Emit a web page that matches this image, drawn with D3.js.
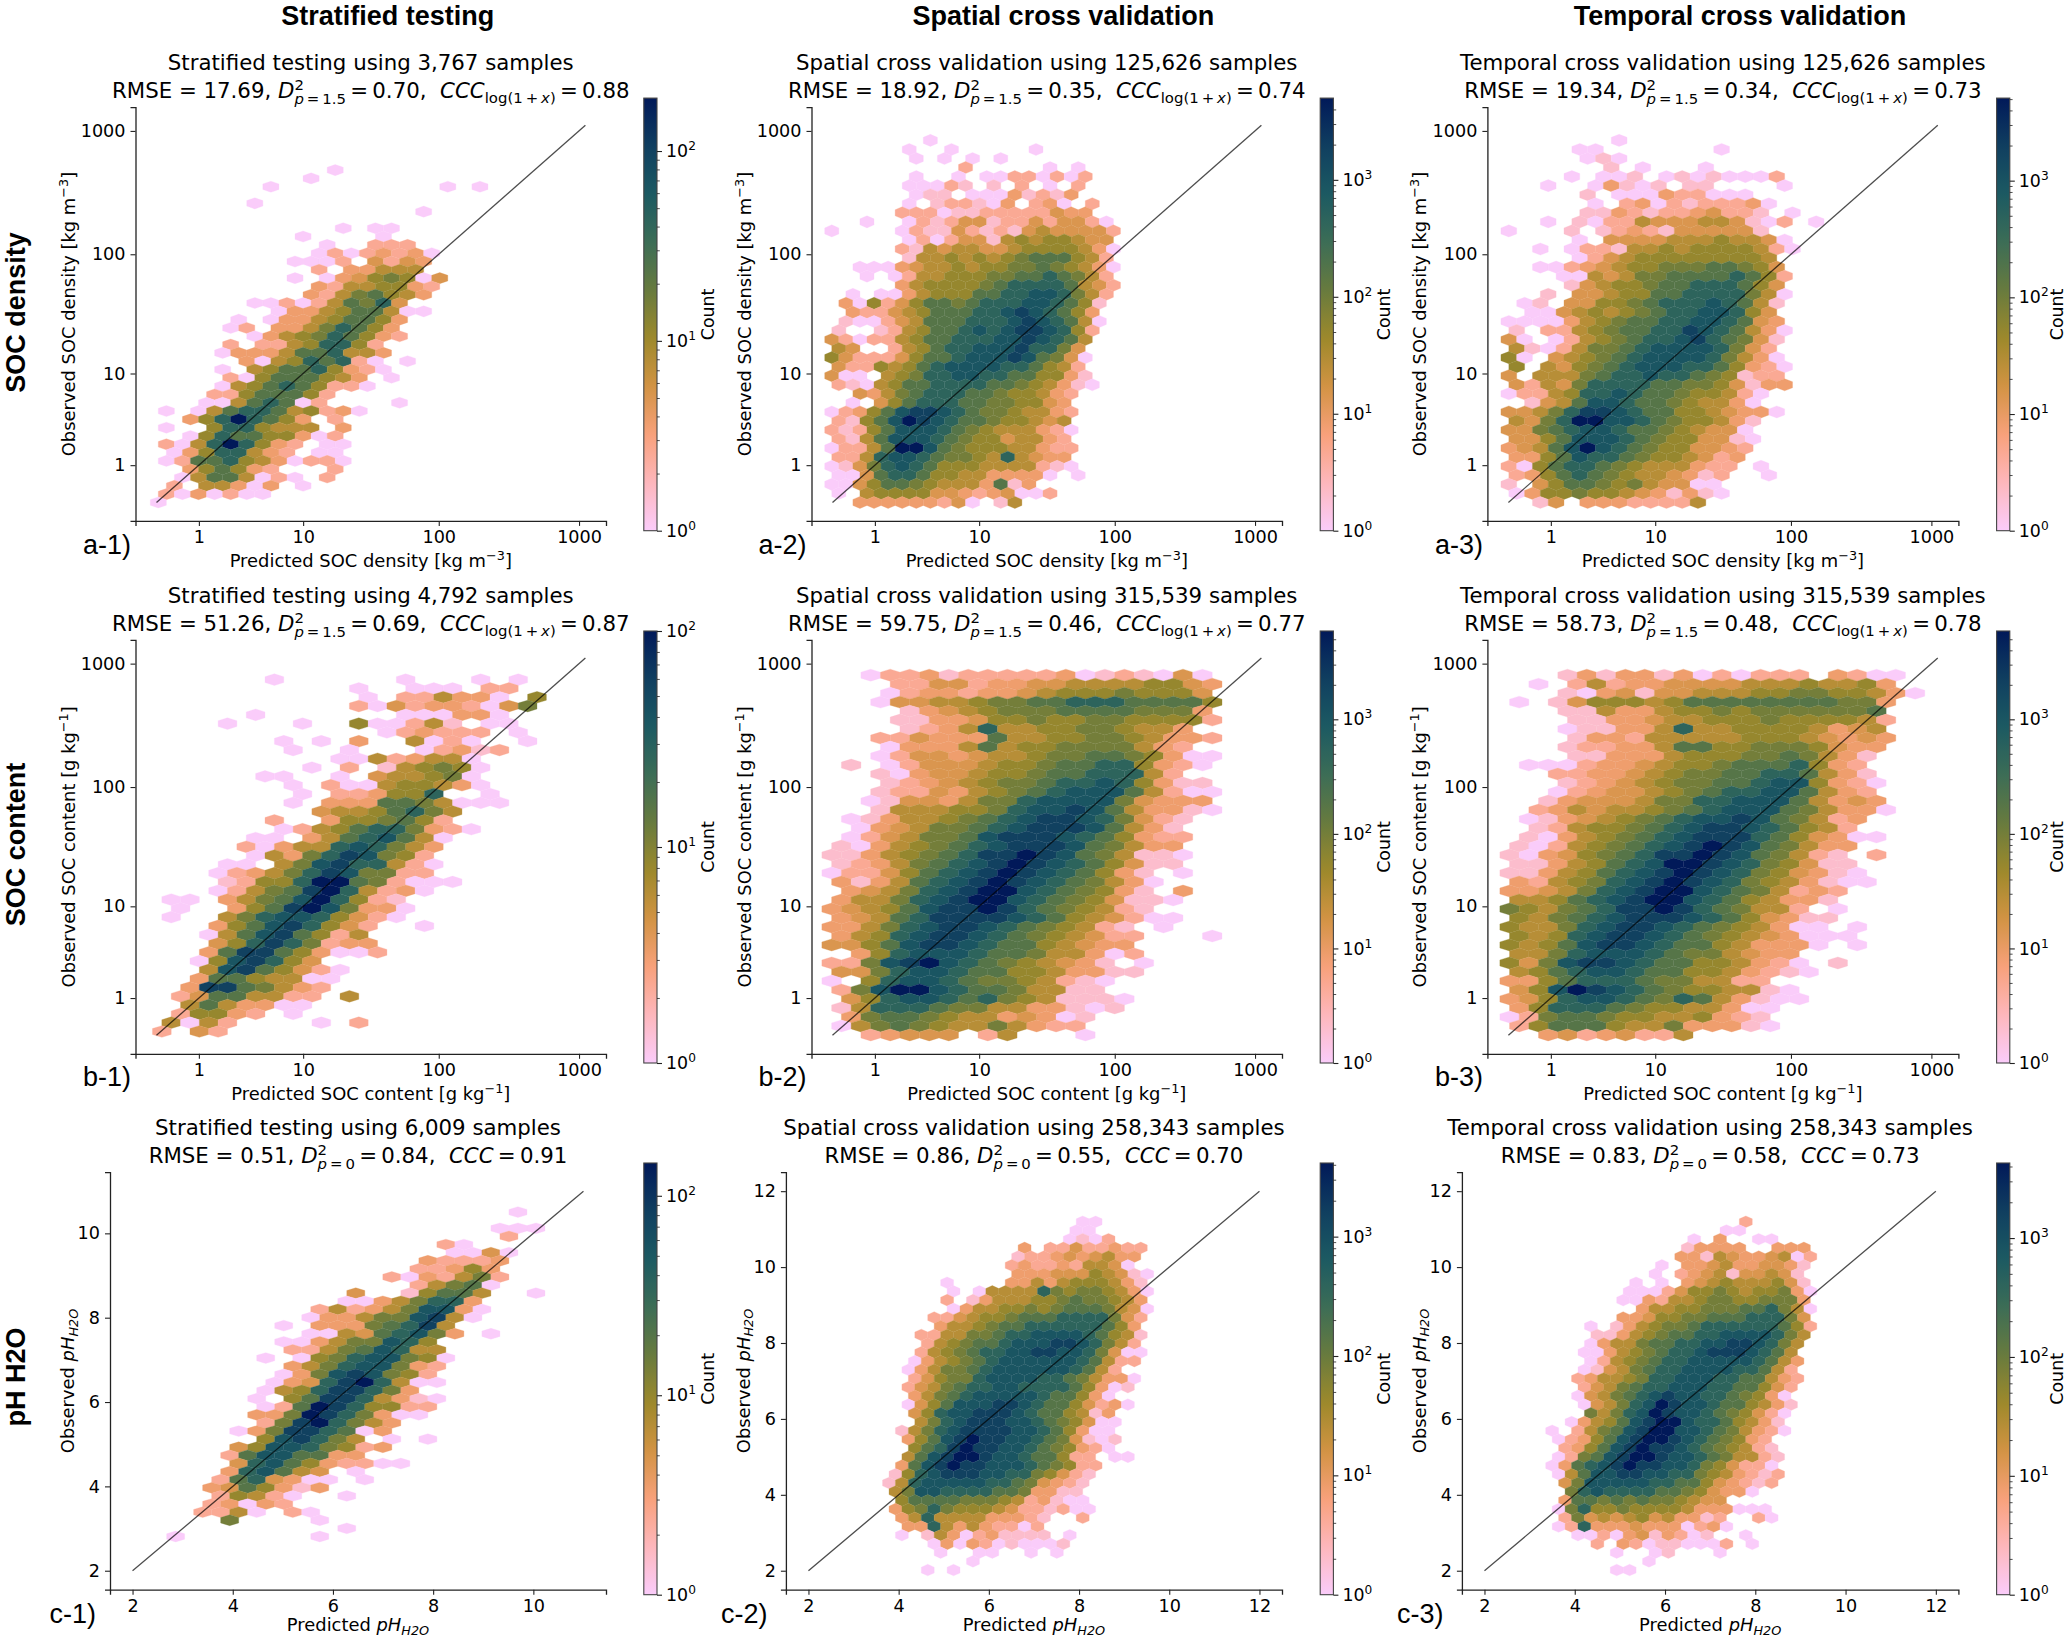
<!DOCTYPE html>
<html>
<head>
<meta charset="utf-8">
<script src="https://cdn.jsdelivr.net/npm/d3@7"></script>
<style>
  html, body { margin: 0; padding: 0; background: #fff; }
  text { font-family: "DejaVu Sans", sans-serif; fill: #000; }
  .head { font-family: "Liberation Sans", Arial, sans-serif; font-weight: bold; font-size: 27px; }
  .letter { font-family: "Liberation Sans", Arial, sans-serif; font-size: 27px; }
</style>
</head>
<body>
<div id="chart-area"></div>
<script>
var colHeads = ["Stratified testing", "Spatial cross validation", "Temporal cross validation"];
var rowHeads = ["SOC density", "SOC content", "pH H2O"];
var letters = ["a-1)", "a-2)", "a-3)", "b-1)", "b-2)", "b-3)", "c-1)", "c-2)", "c-3)"];
var sampleCounts = ["3,767", "125,626", "125,626", "4,792", "315,539", "315,539", "6,009", "258,343", "258,343"];
var rmseValues = ["17.69", "18.92", "19.34", "51.26", "59.75", "58.73", "0.51", "0.86", "0.83"];
var d2Values = ["0.70", "0.35", "0.34", "0.69", "0.46", "0.48", "0.84", "0.55", "0.58"];
var cccValues = ["0.88", "0.74", "0.73", "0.87", "0.77", "0.78", "0.91", "0.70", "0.73"];
var colorMax = [190, 5000, 5100, 100, 5900, 5900, 146, 4140, 4280];
var logTicks = [1, 10, 100, 1000];
var phTicksShort = [2, 4, 6, 8, 10];
var phTicksLong = [2, 4, 6, 8, 10, 12];

// hex lattice of every panel, in axis units (log10(1+x) for the SOC rows)
var gridX0 = [0.013, -0.005, 0.003, 0.038, -0.006, 0.008, 2.86, 3.5, 3.5];
var gridDx = [0.1142, 0.1, 0.1118, 0.1332, 0.1386, 0.137, 0.3596, 0.2863, 0.286];
var gridY0 = [0, 0, 0, 0.031, 0.0035, 0.0035, 2.812, 2.018, 2.018];
var gridDy = [0.0671, 0.0731, 0.0731, 0.071, 0.0726, 0.0726, 0.1923, 0.2294, 0.2294];

// cells: one string per hex row, top row first.
// "." is an empty cell, the other characters index levelFractions.
var levelKeys = "0123456789abc";
var levelFractions = [0, 0.08, 0.18, 0.25, 0.31, 0.39, 0.46, 0.53, 0.6, 0.72, 0.8, 0.88, 1];

var cellsA1 = ["...........0", ".........0", ".......0..........0.0", "", "......0", "................0", "",
  "...........0.00", ".........0....0", "..........0..222", "..........02023230", "........0002.4243",
  "..........2.33555", "........0.03467604", "..........32556632", ".........32578653", "......0020258794",
  ".......0335688500", ".....0.033568863", "....02.33579863", "......0356798632", "....2.22569962",
  "....03335889553", ".....305698920.0", "....0.568896320", "....206888653.0", "....0568986220",
  "...22688862", "...00589802....0", "0.05899856230", "..369c9863.2", "0..6996555.3", "..0698866302",
  "2059c9632.00", ".03699532.00", "028896530220", "..368632...2", ".05885020.2", ".2.55303.0", "2030200", "0"];

var cellsA2 = [".......0", ".....0..0.....0", "......0.0.0.0", ".........2.....0.0", "......0..0.00220202",
  ".....00021.1.2.0.2", "......011.00031213", ".....0.122103.230.2", ".....22201122222433",
  "..0..021244122424420", "0....0211421214544442", ".....020244156566544", ".....2154554456666530",
  ".....155656567888652", "..0003455656677876530", "..0.0255666778898752", ".....3566667899998542",
  ".0.00356668899aa9752", ".3062468878999aa9861", ".32245688899aba9863", ".100245888999aba9850",
  "1..1256889a9abba962", "420225688999aaba985", "54..256899aaab9974", "6422246889aaaba8740",
  "42265689aaaa998652", "400.56799aa99886631", "2105688999988765310", "..4357899988766532",
  ".0.46899988776643", "02368abba987765532", "2168acba988766545", "21268aaa9876555320",
  "2158aaa9876645532", "02258cca8766655322", "2259aa98776595433", "01479a986665555210",
  "0048998665533330.0", "004688765553813", "0.56666443234002", "..333333240.15"];

var cellsA3 = [".......0", "....00.......0", ".....010", "......1.0...0", "....0.001.01010002",
  "..0..03101.11....0", ".....1.000322000", ".....0.2302122230", ".....113212234221.0",
  "..0.10225444554102.0", "0...1.12321444441", "....0.444455565540", "..0.022155656666520",
  "....0245666666665", "..0023456677788764", "...005457788889862", "....14566788999864",
  "..1.44566889999750", ".01.446678999a9851", ".00456567899aa964", "000035678899aa9843",
  "1.225678899ba98530", "40.02567899ab98741", "510257789aaaa9742", "60.456789aaaa97530",
  "6.546789aaa9986320", "4.5557899a99876122", "425479999887764133", "0225699a988766520",
  ".1458aa988765530", "44579bba9886654330", "5479ccaa98766531", "44789aa988765440",
  "4468aaa987664410", "3458aca987664432", "3368a9987665423", "206899876555322.0",
  "23689876554312..0", "1.468876754400", "03667665431310", "..14.33322225"];

var cellsB1 = ["......0......0...0.0", "..........0..000.22", "...........0.225330.6", "..........2042332047",
  ".....0.......000330", "...0...0..600251.00", "............023222.0", "......0.0.3..5020..0",
  ".......0..0...02312", ".........00523550", "........0.2.156760", ".....00..0.455670",
  ".......0.200566530", ".......0.223669..0", ".......0.3338875000", "........45568975",
  "......2..3667862", "......02568997320", ".....00.3589a850", "....203559a9753",
  ".....05379ba762", "...00.57ab99520", "...023579ba7722", "...12669cc872000",
  "...02578bc95230", "00.3578ac9621", ".0..368bca7330", "0..579aa96420",
  "...368ab9642..0", "..058ab8625", "...469b97233", "..38bb863002", "..06ab964",
  "..5ab86420", "..38865500", ".3bb87532", ".24885522.5", ".5853300", ".26632.0",
  "5052....0.2", "2.42"];

var cellsB2 = ["..022312222230121040", "...22442334455556643", "...02332334566676664", "..044556778899988886",
  "....1345677788887773", "...11334667667766662", "....123595566776553", "..224333855667765332",
  "...0333585667777532", "..024434556778876300", ".1.02444566788996320", "..1034456678899952",
  "...12345677899a96311", "..1224356789aaa85200", "..014435779aaaa74333", "..15556679aaba853310",
  ".013556789abba97421", ".03457789abbba8531", ".0245778abbba986322", "10356789abbba87533",
  "11356789bbcba875110", "1235789abcba986411", "0224689abcba98631.0", "313589abcba987530",
  ".34579abcca987631.3", "35579abcca98764110", "34568abbcb9876521", "34589bbbba98654200",
  "33579abba9876521.0", "3569abba98765422...0", "4468abba98865433", ".369aaa988755302",
  "227abca98765431.0", "4479aa9886653311", "0.69aa987765210", "27acca98875511",
  ".469aa9897651110", "159998775533101", ".3788765534301", "0578765575322", "..23444.25...0"];

var cellsB3 = ["...1313313020222.3200", ".0.25233444455565563", "...1034144555667766530", "0.146665688888888773",
  "...11533566767777778", "...11334556667666652", "...01133595566665345", "...13325555566654343",
  "...12233588667776433", "...1133356667787531", ".000233456678889632", "..22334567788998531",
  "...12345677889aa6320", "..02344567899aa8532", "..1344457799aaa85343", ".2354556789aaa875330",
  ".013456789aaba87523", ".12566789abba98652", ".10356789abbb9864300", "10256789abcba87533",
  "10346789bbcba87521.2", "1135689accba976411", "1135689abcba9764310", "325679abcba97653100",
  "334579abcca9875232", "55689abcca9865331", "765789bbcb987552.0", "65789abbba9864311",
  "65579abba98765300.0", "6569abba9876543000", "6568abba988653330.0", "5579aaa98775433",
  "647abba988665320.1", "5689aa9886653210", "33689998775522", "46acba987665510",
  "3469aa9879853100", "36999876655300", "02788766556321", "26888655733310", "..34234225"];

var cellsC1 = ["...................0", "", "..................000", "..................2", "...............20",
  "...............0040", "..............32223", ".............22363", "............2032572",
  ".............25780", "..........4..16885..0", ".........00357993", "........252357aa30",
  ".......033577ab50", "......0.333789b5", ".......005489a73.0", "......003577a96",
  "......22578a955", ".....0.0679aa760", "......3579aa732", "......037aba762",
  ".....0349bc9500", ".....0569bb973", "....0.68bb95310", ".....028cb96622", "....337cb97300",
  ".....27bc9753", "...037bb9803", ".....6ab975.0.0", "...46aa97623", "...28aa8833",
  "...49a8632200", "...39a854.0", "..2894300.0", "..3486313", "..26520..0", "..23032",
  ".2250.20", "...7....0", ".........0", "0.......0"];

var cellsC2 = ["................00", "...............00", "...............0102", "...........3.22422322",
  "...........1223434533", "..........2322325540", "...........33344465410", ".....0....33535666531",
  "......0.05555976776530", ".....2.13555667877653", "......0355667678887540", "....22456678889999742",
  ".....3556788999999863", "...225577899aaaa98651", "....2567889aaabba9752", "...2567899aabbaa97400",
  "...0356789aaaaaa98522", "..0357789aaaaaa9852", "...246779aaaa99875330", "..2457899aa999986301",
  "...35789aaaaa988630", "..0468aaabba98864230", "...469aabbba9886513", "...579abbbaa9876400",
  "..1579abbbbaa986300", "..368abcbbaa9874101", "...689bcbbaa9876320", "..58abccbaa988622.00",
  "..38abcbbaaa987622", ".169abbbaa9976421", ".159aaaaa99874321", ".57aa99998873311",
  "..688887776523100", ".3679766654221200", "..359555533321..2", "..33953532202",
  "..0.1530231111.0", "....03032010001", ".....0..00..0.0", ".......0", "....0.0"];

var cellsC3 = ["...............2", ".............00", "...........0.3..00", "..........13333..333",
  "..........33154334502", "........0.3345334431", "........0.2345144541", "......0.0.3456555641",
  "......000246676566730", ".....003255677667773", ".......35566777889750", ".....334667788899974",
  "...0.1356778999999862", "...1135678899aaaa975", "...035578899aabba975", "..003567899abbba985",
  "...02567899aaaaa9853", "..01457899aaaa99852", "..23556799aaa9988532", "..2457899aaa9988642",
  "..045789abaa9987630", "..04579acbaa9886531", "...7579acbaa9876420", ".03568abcca9986531",
  "0.2578abccaa9875320", "02368abccba987632", ".2368abcbba9876521", "0278abccbaa9875521",
  "0389abcbbaa9764220", "058aabbaa997653212", ".47aaaaa9988643212", ".79a999988764330",
  ".3887878776544", "07966766665333000", ".2745456453312..20", "02933343330230",
  "..00203413201..0", "...2.320110002.0", ".....0..01...0", ".......0", ".....00"];

var panelCells = [cellsA1, cellsA2, cellsA3, cellsB1, cellsB2, cellsB3, cellsC1, cellsC2, cellsC3];

// batlow, reversed
var batlowStops = ["#FACCFA", "#FDB7BC", "#F8A17B", "#D29343", "#9D892B", "#687B3E", "#3C6D56", "#1C5A62", "#103F60", "#011959"];

var width = 2067;
var height = 1637;
var axesLeft = [135.5, 811.5, 1487.4];
var axesLeftPh = [110, 785.9, 1461.9];
var axesRight = [606, 1282, 1958.4];
var axesTop = [107.2, 639.9, 1172.2];
var axesBottom = [520.9, 1053.8, 1589.7];
var barLeft = [643.8, 1320.2, 1996.6];
var barTop = [98.1, 631, 1163];
var barBottom = [530.7, 1063, 1594.7];
var barWidth = 13.2;
var titleBase = [[70, 98], [602.7, 630.5], [1135, 1162.5]];
var labelBase = [567, 1099.5, 1631];
var letterX = [[83, 758.5, 1435], [83, 758.5, 1435], [49.5, 721, 1397]];
var letterBase = [554, 1086, 1622.5];
var headX = [387.7, 1063.4, 1740];
var rowHeadY = [312.6, 844.6, 1377];
var countOffset = [57, 57, 53];

var svg = d3.select("#chart-area").append("svg")
  .attr("width", width)
  .attr("height", height)
  .style("display", "block");

var defs = svg.append("defs");

var stopPos = d3.range(batlowStops.length).map(function(i) { return i / (batlowStops.length - 1); });
var batlow = d3.scaleLinear().domain(stopPos).range(batlowStops).interpolate(d3.interpolateRgb);

defs.append("linearGradient")
  .attr("id", "batlow")
  .attr("x1", 0).attr("x2", 0).attr("y1", 1).attr("y2", 0)
  .selectAll("stop")
  .data(d3.range(0, 1.001, 0.02))
  .enter().append("stop")
  .attr("offset", function(d) { return d; })
  .attr("stop-color", function(d) { return batlow(d); });

colHeads.forEach(function(h, i) {
  svg.append("text").attr("class", "head")
    .attr("x", headX[i]).attr("y", 24.5)
    .attr("text-anchor", "middle")
    .text(h);
});
rowHeads.forEach(function(h, i) {
  svg.append("text").attr("class", "head")
    .attr("transform", "translate(25," + rowHeadY[i] + ") rotate(-90)")
    .attr("text-anchor", "middle")
    .text(h);
});

function addSpan(t, str, opts) {
  opts = opts || {};
  var s = t.append("tspan").text(str);
  if (opts.size) s.attr("font-size", opts.size);
  if (opts.italic) s.attr("font-style", "italic");
  if (opts.dy) s.attr("dy", opts.dy);
  if (opts.dx) s.attr("dx", opts.dx);
  return s;
}

function drawTitle(g, cx, base, idx, row) {
  var method = colHeads[idx % 3];
  g.append("text")
    .attr("x", cx).attr("y", base[0])
    .attr("text-anchor", "middle")
    .attr("font-size", 21.3)
    .text(method + " using " + sampleCounts[idx] + " samples");
  var t = g.append("text")
    .attr("x", cx).attr("y", base[1])
    .attr("text-anchor", "middle")
    .attr("font-size", 21.3)
    .attr("xml:space", "preserve");
  addSpan(t, "RMSE = " + rmseValues[idx] + ", ");
  addSpan(t, "D", {italic: true});
  addSpan(t, "2", {size: 14.9, dy: -8});
  addSpan(t, "p", {size: 14.9, italic: true, dy: 14, dx: -9.5});
  addSpan(t, row < 2 ? "\u2009=\u20091.5" : "\u2009=\u20090", {size: 14.9});
  addSpan(t, "\u2009=\u2009" + d2Values[idx] + ",  ", {dy: -6});
  addSpan(t, "CCC", {italic: true});
  if (row < 2) {
    addSpan(t, "log(1\u2009+\u2009", {size: 14.9, dy: 5});
    addSpan(t, "x", {size: 14.9, italic: true});
    addSpan(t, ")", {size: 14.9});
    addSpan(t, "\u2009=\u2009" + cccValues[idx], {dy: -5});
  } else {
    addSpan(t, "\u2009=\u2009" + cccValues[idx]);
  }
}

function addAxisLabel(t, word, row) {
  if (row == 0) {
    addSpan(t, word + " SOC density [kg m");
    addSpan(t, "\u22123", {size: 12.8, dy: -7});
    addSpan(t, "]", {dy: 7});
  } else if (row == 1) {
    addSpan(t, word + " SOC content [g kg");
    addSpan(t, "\u22121", {size: 12.8, dy: -7});
    addSpan(t, "]", {dy: 7});
  } else {
    addSpan(t, word + " ");
    addSpan(t, "pH", {italic: true});
    addSpan(t, "H2O", {size: 12.8, italic: true, dy: 3.5});
  }
}

function styleAxis(sel) {
  sel.selectAll("path").attr("stroke", "#222").attr("stroke-width", 1.3);
  sel.selectAll("line").attr("stroke", "#222").attr("stroke-width", 1.1);
  sel.selectAll("text").attr("font-size", 17.6).attr("font-family", "DejaVu Sans").attr("fill", "#000");
}

panelCells.forEach(function(rows, idx) {
  var row = Math.floor(idx / 3);
  var col = idx % 3;
  var isLog = row < 2;
  var left = isLog ? axesLeft[col] : axesLeftPh[col];
  var right = axesRight[col];
  var top = axesTop[row];
  var bottom = axesBottom[row];
  var g = svg.append("g");

  var x, y, toX, toY, axisX, axisY, lineEnds;
  if (isLog) {
    // axes are log10(1+value), so the log scales take value+1
    x = d3.scaleLog().domain([Math.pow(10, -0.149), Math.pow(10, 3.192)]).range([left, right]);
    y = d3.scaleLog().domain([Math.pow(10, -0.149), Math.pow(10, 3.192)]).range([bottom, top]);
    toX = function(u) { return x(Math.pow(10, u)); };
    toY = function(u) { return y(Math.pow(10, u)); };
    axisX = d3.axisBottom(x).tickValues(logTicks.map(function(v) { return v + 1; }));
    axisY = d3.axisLeft(y).tickValues(logTicks.map(function(v) { return v + 1; }));
    axisX.tickFormat(function(d) { return d - 1; });
    axisY.tickFormat(function(d) { return d - 1; });
    lineEnds = [0, 1110].map(function(v) { return Math.log10(v + 1); });
  } else {
    var short = col == 0;
    var dom = short ? [1.55, 11.45] : [1.5, 12.5];
    var ticks = short ? phTicksShort : phTicksLong;
    x = d3.scaleLinear().domain(dom).range([left, right]);
    y = d3.scaleLinear().domain(dom).range([bottom, top]);
    toX = x;
    toY = y;
    axisX = d3.axisBottom(x).tickValues(ticks).tickFormat(d3.format("d"));
    axisY = d3.axisLeft(y).tickValues(ticks).tickFormat(d3.format("d"));
    lineEnds = short ? [2, 11] : [2, 12];
  }

  var vmax = colorMax[idx];
  var countToT = d3.scaleLog().domain([1, vmax]).range([0, 1]);

  // hex cells
  var cells = [];
  rows.forEach(function(str, j) {
    var k = rows.length - 1 - j;
    str.split("").forEach(function(ch, i) {
      if (ch == ".") return;
      cells.push({
        u: gridX0[idx] + (i + (k % 2 ? 0.5 : 0)) * gridDx[idx],
        v: gridY0[idx] + k * gridDy[idx],
        count: Math.pow(vmax, levelFractions[levelKeys.indexOf(ch)])
      });
    });
  });
  var hw = Math.abs(toX(gridX0[idx] + gridDx[idx]) - toX(gridX0[idx])) / 2;
  var rowPx = Math.abs(toY(gridY0[idx] + gridDy[idx]) - toY(gridY0[idx]));
  var hexPath = "M" + hw + "," + (-rowPx / 3) + "L" + hw + "," + (rowPx / 3) + "L0," + (2 * rowPx / 3) +
    "L" + (-hw) + "," + (rowPx / 3) + "L" + (-hw) + "," + (-rowPx / 3) + "L0," + (-2 * rowPx / 3) + "Z";

  g.append("g").selectAll("path")
    .data(cells)
    .enter().append("path")
    .attr("d", hexPath)
    .attr("transform", function(d) { return "translate(" + toX(d.u) + "," + toY(d.v) + ")"; })
    .attr("fill", function(d) { return batlow(countToT(d.count)); })
    .attr("stroke", function(d) { return batlow(countToT(d.count)); })
    .attr("stroke-width", 0.3);

  // 1:1 line
  g.append("line")
    .attr("x1", toX(lineEnds[0])).attr("y1", toY(lineEnds[0]))
    .attr("x2", toX(lineEnds[1])).attr("y2", toY(lineEnds[1]))
    .attr("stroke", "#000")
    .attr("stroke-opacity", 0.7)
    .attr("stroke-width", 1.3);

  // axes
  var gx = g.append("g").attr("transform", "translate(0," + bottom + ")")
    .call(axisX.tickSizeOuter(0).tickSize(5).tickPadding(5));
  styleAxis(gx);
  var gy = g.append("g").attr("transform", "translate(" + left + ",0)")
    .call(axisY.tickSizeOuter(0).tickSize(5).tickPadding(5));
  styleAxis(gy);

  drawTitle(g, (left + right) / 2, titleBase[row], idx, row);

  var xl = g.append("text")
    .attr("x", (left + right) / 2).attr("y", labelBase[row])
    .attr("text-anchor", "middle").attr("font-size", 17.9);
  addAxisLabel(xl, "Predicted", row);
  var yl = g.append("text")
    .attr("transform", "translate(" + (left - (isLog ? 61 : 36)) + "," + ((top + bottom) / 2) + ") rotate(-90)")
    .attr("text-anchor", "middle").attr("font-size", 17.9);
  addAxisLabel(yl, "Observed", row);

  g.append("text").attr("class", "letter")
    .attr("x", letterX[row][col]).attr("y", letterBase[row])
    .text(letters[idx]);

  // colorbar
  var bl = barLeft[col];
  var cScale = d3.scaleLog().domain([1, vmax]).range([barBottom[row], barTop[row]]);
  var majors = [1, 10, 100, 1000].filter(function(v) { return v <= vmax; });
  var minors = [];
  majors.forEach(function(m) {
    d3.range(2, 10).forEach(function(f) {
      if (m * f < vmax) minors.push(m * f);
    });
  });
  g.append("rect")
    .attr("x", bl).attr("y", barTop[row])
    .attr("width", barWidth).attr("height", barBottom[row] - barTop[row])
    .attr("fill", "url(#batlow)")
    .attr("stroke", "#444").attr("stroke-width", 1.1);
  var barAxisMinor = g.append("g").attr("transform", "translate(" + (bl + barWidth) + ",0)")
    .call(d3.axisRight(cScale).tickValues(minors).tickSize(2.8).tickFormat(""));
  barAxisMinor.select("path").remove();
  barAxisMinor.selectAll("line").attr("stroke", "#222").attr("stroke-width", 0.8);
  var barAxis = g.append("g").attr("transform", "translate(" + (bl + barWidth) + ",0)")
    .call(d3.axisRight(cScale).tickValues(majors).tickSize(5).tickPadding(4).tickFormat(""));
  barAxis.select("path").remove();
  barAxis.selectAll("line").attr("stroke", "#222").attr("stroke-width", 1.1);
  barAxis.selectAll(".tick").each(function(d) {
    var t = d3.select(this).select("text").attr("font-size", 17.4).attr("fill", "#000").attr("font-family", "DejaVu Sans");
    t.text("");
    addSpan(t, "10");
    addSpan(t, String(Math.round(Math.log10(d))), {size: 12.2, dy: -7});
  });
  g.append("text")
    .attr("transform", "translate(" + (bl + barWidth + countOffset[col]) + "," + ((barTop[row] + barBottom[row]) / 2) + ") rotate(-90)")
    .attr("text-anchor", "middle").attr("font-size", 17.4)
    .text("Count");
});
</script>
</body>
</html>
